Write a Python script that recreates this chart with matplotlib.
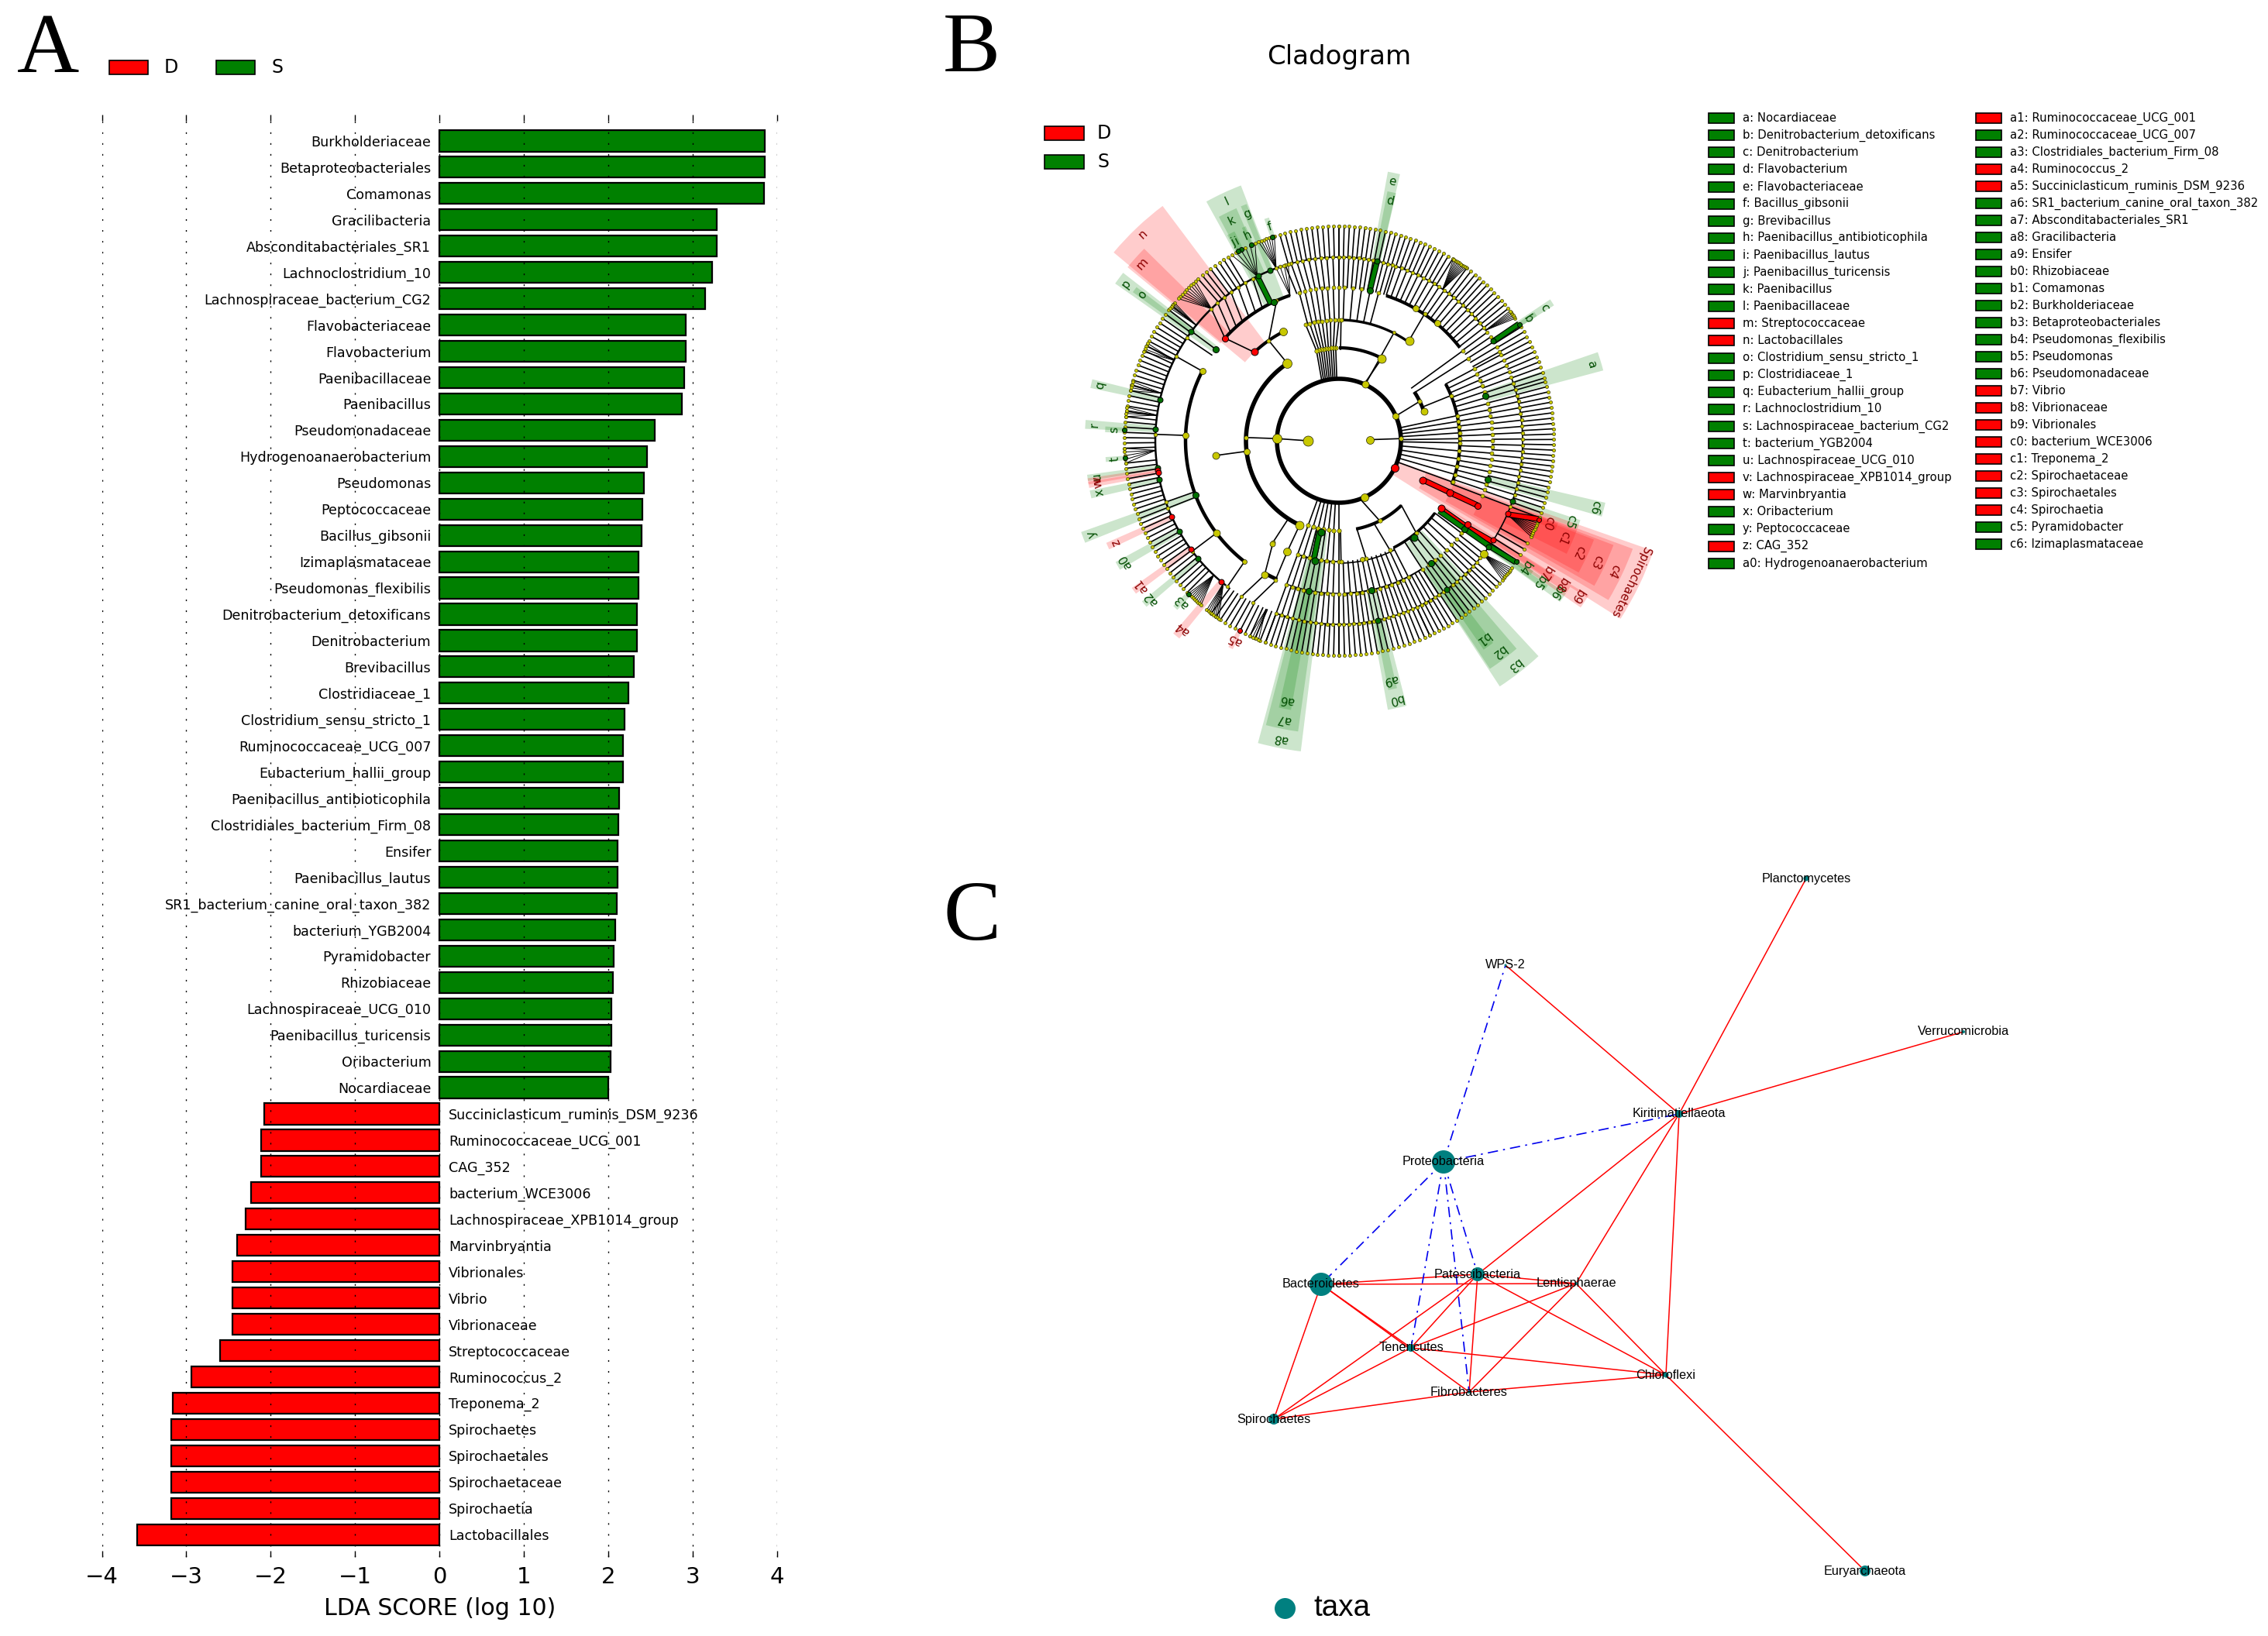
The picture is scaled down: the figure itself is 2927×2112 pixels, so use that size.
import numpy as np
import matplotlib
matplotlib.use('Agg')
import matplotlib.pyplot as plt
from matplotlib.patches import Rectangle

W, H = 2927, 2112
GREEN = '#008000'
RED = '#ff0000'
TEAL = '#008080'
YEL = '#c8c800'

# panel A
s_names = ['Burkholderiaceae', 'Betaproteobacteriales', 'Comamonas', 'Gracilibacteria',
           'Absconditabacteriales_SR1', 'Lachnoclostridium_10', 'Lachnospiraceae_bacterium_CG2',
           'Flavobacteriaceae', 'Flavobacterium', 'Paenibacillaceae', 'Paenibacillus',
           'Pseudomonadaceae', 'Hydrogenoanaerobacterium', 'Pseudomonas', 'Peptococcaceae',
           'Bacillus_gibsonii', 'Izimaplasmataceae', 'Pseudomonas_flexibilis',
           'Denitrobacterium_detoxificans', 'Denitrobacterium', 'Brevibacillus', 'Clostridiaceae_1',
           'Clostridium_sensu_stricto_1', 'Ruminococcaceae_UCG_007', 'Eubacterium_hallii_group',
           'Paenibacillus_antibioticophila', 'Clostridiales_bacterium_Firm_08', 'Ensifer',
           'Paenibacillus_lautus', 'SR1_bacterium_canine_oral_taxon_382', 'bacterium_YGB2004',
           'Pyramidobacter', 'Rhizobiaceae', 'Lachnospiraceae_UCG_010', 'Paenibacillus_turicensis',
           'Oribacterium', 'Nocardiaceae']
s_vals = [3.85, 3.85, 3.84, 3.28, 3.28, 3.23, 3.15, 2.92, 2.92, 2.90, 2.87, 2.55, 2.46, 2.42,
          2.40, 2.39, 2.36, 2.36, 2.34, 2.34, 2.30, 2.24, 2.19, 2.17, 2.17, 2.13, 2.12, 2.11,
          2.11, 2.10, 2.08, 2.06, 2.05, 2.04, 2.04, 2.03, 2.00]
d_names = ['Succiniclasticum_ruminis_DSM_9236', 'Ruminococcaceae_UCG_001', 'CAG_352',
           'bacterium_WCE3006', 'Lachnospiraceae_XPB1014_group', 'Marvinbryantia', 'Vibrionales',
           'Vibrio', 'Vibrionaceae', 'Streptococcaceae', 'Ruminococcus_2', 'Treponema_2',
           'Spirochaetes', 'Spirochaetales', 'Spirochaetaceae', 'Spirochaetia', 'Lactobacillales']
d_vals = [-2.08, -2.11, -2.11, -2.23, -2.30, -2.40, -2.45, -2.45, -2.45, -2.60, -2.94, -3.16,
          -3.18, -3.18, -3.18, -3.18, -3.58]
x_ticks = [-4, -3, -2, -1, 0, 1, 2, 3, 4]

# panel B, clades with a letter, in legend order
clade_keys = ['a', 'b', 'c', 'd', 'e', 'f', 'g', 'h', 'i', 'j', 'k', 'l', 'm', 'n', 'o', 'p', 'q',
              'r', 's', 't', 'u', 'v', 'w', 'x', 'y', 'z', 'a0', 'a1', 'a2', 'a3', 'a4', 'a5', 'a6',
              'a7', 'a8', 'a9', 'b0', 'b1', 'b2', 'b3', 'b4', 'b5', 'b6', 'b7', 'b8', 'b9', 'c0',
              'c1', 'c2', 'c3', 'c4', 'c5', 'c6']
clade_names = ['Nocardiaceae', 'Denitrobacterium_detoxificans', 'Denitrobacterium', 'Flavobacterium',
               'Flavobacteriaceae', 'Bacillus_gibsonii', 'Brevibacillus',
               'Paenibacillus_antibioticophila', 'Paenibacillus_lautus', 'Paenibacillus_turicensis',
               'Paenibacillus', 'Paenibacillaceae', 'Streptococcaceae', 'Lactobacillales',
               'Clostridium_sensu_stricto_1', 'Clostridiaceae_1', 'Eubacterium_hallii_group',
               'Lachnoclostridium_10', 'Lachnospiraceae_bacterium_CG2', 'bacterium_YGB2004',
               'Lachnospiraceae_UCG_010', 'Lachnospiraceae_XPB1014_group', 'Marvinbryantia',
               'Oribacterium', 'Peptococcaceae', 'CAG_352', 'Hydrogenoanaerobacterium',
               'Ruminococcaceae_UCG_001', 'Ruminococcaceae_UCG_007', 'Clostridiales_bacterium_Firm_08',
               'Ruminococcus_2', 'Succiniclasticum_ruminis_DSM_9236',
               'SR1_bacterium_canine_oral_taxon_382', 'Absconditabacteriales_SR1', 'Gracilibacteria',
               'Ensifer', 'Rhizobiaceae', 'Comamonas', 'Burkholderiaceae', 'Betaproteobacteriales',
               'Pseudomonas_flexibilis', 'Pseudomonas', 'Pseudomonadaceae', 'Vibrio', 'Vibrionaceae',
               'Vibrionales', 'bacterium_WCE3006', 'Treponema_2', 'Spirochaetaceae', 'Spirochaetales',
               'Spirochaetia', 'Pyramidobacter', 'Izimaplasmataceae']
clade_group = list('SSSSSSSSSSSSDDSSSSSSSDDSSDS' + 'DSSDDSSSSSSSSSSSDDDDDDDDSS')
clade_angle = [16.9, 32.8, 33, 78, 78.4, 108, 112, 114, 117, 118, 116, 115, 138, 133.5, 143.5, 143.5,
               167, 176.3, 177.2, 184.6, 188.4, 189.2, 190, 192.2, 200.7, 204.5, 209.5, 216.2, 220,
               225.6, 230.2, 242.4, 258.6, 258.8, 259, 282.2, 282.3, 306, 307, 308, 325.6, 324.7,
               325, 327.3, 327, 326.8, 338.5, 336.6, 335, 334.8, 334.6, 340.8, 345.4]
clade_level = [5, 7, 6, 6, 5, 7, 6, 7, 7, 7, 6, 5, 5, 4, 6, 5, 6, 6, 7, 7, 6, 6, 6, 6, 5, 6, 6, 6, 6,
               7, 6, 7, 5, 4, 3, 6, 5, 6, 5, 4, 7, 6, 5, 6, 5, 4, 7, 6, 5, 4, 3, 6, 5]
clade_half = [2, .6, .8, 1, 1.3, .6, .7, .5, .5, .5, 2.2, 4, 2.6, 6.6, .7, 1.4, 1, 1, .7, .6, .7, .7,
              .7, .9, 1.2, .8, 1, .8, .8, .7, .9, .6, 1.3, 3.2, 4, 1, 2, 1.3, 3.5, 4.8, .6, .6, 1.1,
              .7, .7, 1.4, .9, 3, 3.8, 4.4, 5.2, 1, 1.5]

ring_r = {1: 40, 2: 80, 3: 120, 4: 158, 5: 198, 6: 237, 7: 277}
label_r = {2: 418, 3: 392, 4: 367, 5: 341, 6: 316, 7: 290}

# r, start, end, width of the tree arcs
arc_r = [80, 120, 120, 116, 116, 158, 156, 156, 156, 155, 198, 198, 197, 196, 197, 197, 237, 237, 237, 237, 158]
arc_a0 = [0, 124, 62.5, 19, 281, 117, 55, -21, 250, 297, 108.6, 153, 37.6, 241, 250, 272, 108, 38, 250, 320, 270]
arc_a1 = [360, 245, 90, 33, 314, 134, 90, 28, 270, 323, 138.4, 232, 72, 246, 270, 303, 232, 105, 320, 380, 297]
arc_w = [4, 4, 3, 3.5, 3, 3, 2.4, 3, 1.2, 2.6, 3, 3.2, 3, 3.5, 1, 1.4, 1.8, 1.2, 1.2, 1.2, 1.2]

# r_in, r_out, inner angles, outer angles, number of lines
spokes = [
    (237, 277, 58, 90, 58, 90, 24), (237, 277, 38, 53.5, 38, 53.5, 12),
    (237, 277, 55.6, 55.6, 53.8, 57.8, 10), (237, 277, 37, 37, 34.8, 37.2, 6),
    (237, 277, 17, 32, 17, 32, 11), (237, 277, -21, 16, -21, 16, 27),
    (237, 277, 336.4, 336.4, 333.5, 338, 9), (237, 277, 326, 331.5, 326, 331.5, 4),
    (237, 277, 321.9, 321.9, 319.6, 323.6, 8), (237, 277, 295, 318.5, 295, 318.5, 18),
    (237, 277, 270, 295, 270, 295, 18), (237, 277, 250, 270, 250, 270, 15),
    (237, 277, 233.5, 250, 233.5, 250, 12), (237, 277, 246.6, 246.6, 245.5, 248, 4),
    (237, 277, 227, 227, 225.4, 230, 9), (237, 277, 231, 231, 232, 236, 8),
    (237, 277, 186, 225, 186, 225, 29), (237, 277, 183, 183, 182, 186, 5),
    (237, 277, 141, 182, 141, 182, 30), (237, 277, 154, 154, 153, 155.5, 4),
    (237, 277, 165, 165, 164, 166.5, 4), (237, 277, 172, 172, 171, 173.5, 4),
    (237, 277, 141, 141, 140, 141.8, 5), (237, 277, 134, 134, 132, 138.5, 9),
    (237, 277, 121, 131, 121, 131, 8), (237, 277, 116.4, 116.4, 113, 120, 6),
    (237, 277, 110, 110, 107.5, 112, 7), (237, 277, 90, 106, 90, 106, 12),
    # r5 -> r6
    (198, 237, -21, 28, -21, 28, 26), (198, 237, 29, 38, 29, 38, 6), (198, 237, 40, 72, 40, 72, 18),
    (198, 237, 73, 90, 73, 90, 12), (198, 237, 90, 106, 90, 107, 10), (198, 237, 108.6, 108.6, 106, 110, 4),
    (198, 237, 120, 138, 118, 134, 7), (198, 237, 143.4, 143.4, 143.4, 143.4, 1), (198, 237, 146, 146, 146, 146, 1),
    (198, 237, 153, 153, 152.6, 152.6, 1), (198, 237, 178, 178, 178, 178, 1), (198, 237, 199.5, 199.5, 199.5, 199.5, 1),
    (198, 237, 201.5, 201.5, 201.5, 201.5, 1), (198, 237, 217, 217, 217, 217, 1), (198, 237, 232, 232, 232.6, 232.6, 1),
    (198, 237, 241, 241, 238, 238, 1), (198, 237, 245.7, 245.7, 242, 242, 1), (198, 237, 250, 270, 250, 270, 12),
    (198, 237, 270, 303, 270, 303, 22), (198, 237, 303, 322, 303, 322, 12),
    # r4 -> r5
    (156, 198, -21, 28, -21, 28, 22), (156, 198, 55, 55, 56, 56, 1), (156, 198, 75, 88, 75, 88, 5),
    (156, 198, 90, 105, 90, 105, 8), (158, 198, 125, 125, 114, 114, 1), (158, 198, 133.7, 133.7, 138, 138, 1),
    (156, 198, 250, 270, 250, 270, 10), (156, 198, 272, 297, 272, 297, 12), (155, 198, 303, 323, 303, 323, 8),
    (156, 198, 237, 237, 241, 241, 1), (156, 198, 245, 245, 245.5, 245.5, 1),
    # r3 -> r4
    (120, 158, 123.7, 123.7, 125, 125, 1), (120, 158, 186.5, 186.5, 186.8, 186.8, 1), (120, 156, 237, 237, 237, 237, 1),
    (120, 156, 245, 245, 245, 245, 1), (120, 156, 92, 104, 90, 106, 9), (116, 156, 250, 270, 250, 270, 8),
    (116, 156, 271, 271, 271, 271, 1), (116, 156, 281.5, 281.5, 283, 283, 1), (116, 156, 293, 293, 295, 295, 1),
    (116, 155, 314, 314, 310, 310, 1), (116, 156, 22, 22, 22, 22, 1), (116, 198, 36, 36, 36, 36, 1),
    (116, 198, 32.5, 32.5, 32.5, 32.5, 1), (118, 156, 89, 89, 89, 89, 1),
    # r2 -> r3 and past it
    (80, 120, 178, 178, 178, 178, 1), (80, 120, 92, 106, 92, 104, 9), (80, 120, 66, 66, 62.5, 62.5, 1),
    (80, 157, 65, 65, 63, 63, 1), (80, 116, 23.5, 23.5, 26, 26, 1), (80, 156, -20, -1, -20, -1, 6),
    (80, 156, 1, 12, 1, 12, 5), (80, 116, 250, 270, 250, 270, 7), (80, 116, 290, 290, 297, 297, 1),
    # r1 -> r2
    (40, 80, 180, 180, 178, 178, 1), (40, 80, 2, 2, 2, 2, 1),
]

# thick tree edges r_in, r_out, angles
thick_r0 = [118, 158, 237, 198, 116, 158, 198, 158, 198, 237, 120, 198, 237]
thick_r1 = [158, 198, 277, 237, 158, 198, 237, 198, 237, 277, 158, 237, 277]
thick_a0 = [335, 335, 336.4, 78.4, 258, 326.3, 326, 325, 325, 325, 258, 116.4, 32.8]
thick_a1 = [335, 335, 338.6, 78, 258, 326, 326.7, 325, 325, 325.5, 258, 116.4, 33]
thick_g = ['D', 'D', 'D', 'S', 'S', 'D', 'D', 'S', 'S', 'S', 'S', 'S', 'S']

# larger plain nodes r, angle, diameter in px
big_r = [40, 40, 80, 80, 80, 80, 120, 120, 120, 116, 158, 158, 198, 198, 198, 197, 198, 160, 120, 198, 158, 198, 158, 156, 237]
big_a = [180, 2, 178, 65, 23.5, 294, 123.7, 245, 62.5, 19, 117, 55, 178, 153, 232, 60, 50, 186.8, 186.5, 216.9, 245, 241, 237, 281, 321.9]
big_d = [13, 10, 12, 9, 8, 10, 12, 11, 11, 9, 10, 11, 8, 8, 6, 8, 8, 9, 8, 9, 10, 9, 7, 6, 10]

other_label = ['Spirochaetes']

# panel C
net_nodes = ['Planctomycetes', 'WPS-2', 'Verrucomicrobia', 'Kiritimatiellaeota', 'Proteobacteria',
             'Bacteroidetes', 'Patescibacteria', 'Lentisphaerae', 'Tenericutes', 'Fibrobacteres',
             'Chloroflexi', 'Spirochaetes', 'Euryarchaeota']
net_x = [2331, 1943, 2534, 2167, 1863, 1705, 1907, 2034, 1821, 1896, 2150, 1644, 2407]
net_y = [1134, 1246, 1332, 1438, 1500, 1658, 1645, 1657, 1740, 1797, 1775, 1832, 2028]
net_d = [7, 3, 4, 10, 30, 30, 18, 4, 10, 4, 7, 14, 14]
red_edges = [('Kiritimatiellaeota', 'Planctomycetes'), ('Kiritimatiellaeota', 'WPS-2'),
             ('Kiritimatiellaeota', 'Verrucomicrobia'), ('Kiritimatiellaeota', 'Patescibacteria'),
             ('Kiritimatiellaeota', 'Lentisphaerae'), ('Kiritimatiellaeota', 'Chloroflexi'),
             ('Chloroflexi', 'Euryarchaeota'), ('Chloroflexi', 'Lentisphaerae'),
             ('Chloroflexi', 'Patescibacteria'), ('Chloroflexi', 'Tenericutes'),
             ('Chloroflexi', 'Fibrobacteres'), ('Fibrobacteres', 'Lentisphaerae'),
             ('Fibrobacteres', 'Patescibacteria'), ('Fibrobacteres', 'Bacteroidetes'),
             ('Fibrobacteres', 'Spirochaetes'), ('Tenericutes', 'Patescibacteria'),
             ('Tenericutes', 'Lentisphaerae'), ('Tenericutes', 'Bacteroidetes'),
             ('Tenericutes', 'Spirochaetes'), ('Patescibacteria', 'Bacteroidetes'),
             ('Patescibacteria', 'Lentisphaerae'), ('Bacteroidetes', 'Lentisphaerae'),
             ('Bacteroidetes', 'Spirochaetes'), ('Patescibacteria', 'Spirochaetes')]
blue_edges = [('Proteobacteria', 'WPS-2'), ('Proteobacteria', 'Kiritimatiellaeota'),
              ('Proteobacteria', 'Bacteroidetes'), ('Proteobacteria', 'Tenericutes'),
              ('Proteobacteria', 'Fibrobacteres'), ('Proteobacteria', 'Patescibacteria')]

fig = plt.figure(figsize=(W / 100, H / 100), dpi=100, facecolor='white')


def px_axes(x0, y0, x1, y1, **kw):
    return fig.add_axes([x0 / W, 1 - y1 / H, (x1 - x0) / W, (y1 - y0) / H], **kw)


# A
ax = px_axes(131.5, 148, 1003, 2010)
names = s_names + d_names
vals = s_vals + d_vals
cols = [GREEN] * len(s_vals) + [RED] * len(d_vals)
ypos = np.arange(len(vals))
ax.barh(ypos, vals, height=0.8, color=cols, edgecolor='black', linewidth=1.6, zorder=2)
for i, (n, v) in enumerate(zip(names, vals)):
    if v > 0:
        ax.text(-0.1, i + 0.06, n, ha='right', va='center', fontsize=12.6, zorder=4)
    else:
        ax.text(0.11, i + 0.06, n, ha='left', va='center', fontsize=12.6, zorder=4)
ax.set_xlim(-4, 4)
ax.set_ylim(53.85, -1.0)
ax.set_xticks(x_ticks)
ax.set_yticks([])
ax.xaxis.set_ticks_position('both')
ax.tick_params(axis='x', direction='in', length=6, width=1, top=True, bottom=True, labelsize=21, pad=9)
ax.grid(axis='x', color='black', linestyle=(0, (1.5, 8.6)), linewidth=1, zorder=3)
ax.set_axisbelow(False)
for sp in ax.spines.values():
    sp.set_visible(False)
ax.set_xlabel('LDA SCORE (log 10)', fontsize=21.6, labelpad=8)

# B
R_MAX = 460
CX, CY = 1728, 569
pol = fig.add_axes([(CX - R_MAX) / W, 1 - (CY + R_MAX) / H, 2 * R_MAX / W, 2 * R_MAX / H],
                   projection='polar')
pol.patch.set_visible(False)
pol.axis('off')
pol.set_ylim(0, R_MAX)

for k, a, lev, hw, g in zip(clade_keys, clade_angle, clade_level, clade_half, clade_group):
    c = GREEN if g == 'S' else RED
    r0 = ring_r[lev]
    r1 = label_r[lev] + 12
    pol.bar(np.radians(a), r1 - r0, width=np.radians(2 * hw), bottom=r0, color=c, alpha=0.2,
            linewidth=0, zorder=1)
    tc = '#004d00' if g == 'S' else '#8b0000'
    pol.text(np.radians(a), label_r[lev], k, rotation=a - 90, rotation_mode='anchor', ha='center',
             va='center', fontsize=11, color=tc, zorder=6)
pol.bar(np.radians(334.2), label_r[2] + 12 - ring_r[2], width=np.radians(13), bottom=ring_r[2],
        color=RED, alpha=0.2, linewidth=0, zorder=1)
pol.text(np.radians(334.2), label_r[2], other_label[0], rotation=334.2 - 90, rotation_mode='anchor',
         ha='center', va='center', fontsize=11, color='#8b0000', zorder=6)

for r, a0, a1, w in zip(arc_r, arc_a0, arc_a1, arc_w):
    th = np.radians(np.linspace(a0, a1, 120))
    pol.plot(th, np.full(th.shape, r), color='black', lw=w, solid_capstyle='butt', zorder=2)

dot_size = {277: 3.0, 237: 3.4, 198: 3.6, 158: 3.7, 156: 3.7, 155: 3.7, 120: 3.9, 118: 3.9, 116: 3.9, 80: 4}
for r0, r1, a00, a01, a10, a11, n in spokes:
    th0 = np.radians(np.linspace(a00, a01, n))
    th1 = np.radians(np.linspace(a10, a11, n))
    fan = a00 == a01 and n > 1
    for t0, t1 in zip(th0, th1):
        pol.plot([t0, t1], [r0, r1], color='black', lw=0.7 if fan else 1.2, zorder=2)
    pol.plot(th1, np.full(n, r1), ls='none', marker='o', ms=dot_size.get(r1, 3), mfc=YEL,
             mec='#222200', mew=0.4, zorder=4)

for r0, r1, a0, a1, g in zip(thick_r0, thick_r1, thick_a0, thick_a1, thick_g):
    c = GREEN if g == 'S' else RED
    pol.plot(np.radians([a0, a1]), [r0, r1], color='black', lw=5.5, solid_capstyle='butt', zorder=3)
    pol.plot(np.radians([a0, a1]), [r0, r1], color=c, lw=3.8, solid_capstyle='butt', zorder=3)

for r, a, d in zip(big_r, big_a, big_d):
    pol.plot(np.radians(a), r, 'o', ms=d * 0.72, mfc=YEL, mec='#222200', mew=0.5, zorder=5)

for a, lev, g in zip(clade_angle, clade_level, clade_group):
    c = '#007000' if g == 'S' else RED
    d = {7: 6, 6: 7, 5: 8, 4: 9, 3: 9}[lev]
    pol.plot(np.radians(a), ring_r[lev], 'o', ms=d * 0.72, mfc=c, mec='black', mew=0.7, zorder=5)
pol.plot(np.radians(334.2), ring_r[2], 'o', ms=7.2, mfc=RED, mec='black', mew=0.7, zorder=5)
pol.set_ylim(0, R_MAX)

# overlay in px for legends, panel letters and the network
ov = fig.add_axes([0, 0, 1, 1], facecolor='none')
ov.set_xlim(0, W)
ov.set_ylim(H, 0)
ov.axis('off')

ov.text(22, 93, 'A', family='Liberation Serif', fontsize=80, va='baseline', ha='left')
ov.text(1217, 92, 'B', family='Liberation Serif', fontsize=80, va='baseline', ha='left')
ov.text(1217, 1213, 'C', family='Liberation Serif', fontsize=80, va='baseline', ha='left')

for x, c, t in zip([141, 279], [RED, GREEN], ['D', 'S']):
    ov.add_patch(Rectangle((x, 78), 50, 18, fc=c, ec='black', lw=1.2))
    ov.text(x + 71, 87, t, fontsize=17, va='center')
for y, c, t in zip([172, 209], [RED, GREEN], ['D', 'S']):
    ov.add_patch(Rectangle((1348, y - 9), 51, 18, fc=c, ec='black', lw=1.2))
    ov.text(1416, y, t, fontsize=17, va='center')
ov.text(1728, 73, 'Cladogram', fontsize=24.5, ha='center', va='center')

for i, (k, nm, g) in enumerate(zip(clade_keys, clade_names, clade_group)):
    c = GREEN if g == 'S' else RED
    if i < 27:
        x, y = 2205, 152.6 + i * 22.1
    else:
        x, y = 2550, 152.6 + (i - 27) * 22.0
    ov.add_patch(Rectangle((x, y - 6.5), 33, 13, fc=c, ec='black', lw=1.2))
    ov.text(x + 44, y, k + ': ' + nm, fontsize=10.7, va='center')

idx = {n: i for i, n in enumerate(net_nodes)}
for a, b in red_edges:
    ov.plot([net_x[idx[a]], net_x[idx[b]]], [net_y[idx[a]], net_y[idx[b]]], color=RED, lw=1.1, zorder=2)
for a, b in blue_edges:
    ov.plot([net_x[idx[a]], net_x[idx[b]]], [net_y[idx[a]], net_y[idx[b]]], color='#0000ee', lw=1.2,
            ls=(0, (8, 4, 1.5, 4)), zorder=2)
ov.scatter(net_x, net_y, s=[(d * 0.72) ** 2 for d in net_d], color=TEAL, linewidths=0, zorder=3)
for n, x, y in zip(net_nodes, net_x, net_y):
    ov.text(x, y, n, family='Liberation Sans', fontsize=11.7, ha='center', va='center', zorder=4)
ov.scatter([1658], [2076], s=(27 * 0.72) ** 2, color=TEAL, linewidths=0)
ov.text(1695, 2076, 'taxa', family='Liberation Sans', fontsize=27.8, va='center')

fig.savefig('out.png', dpi=100)
